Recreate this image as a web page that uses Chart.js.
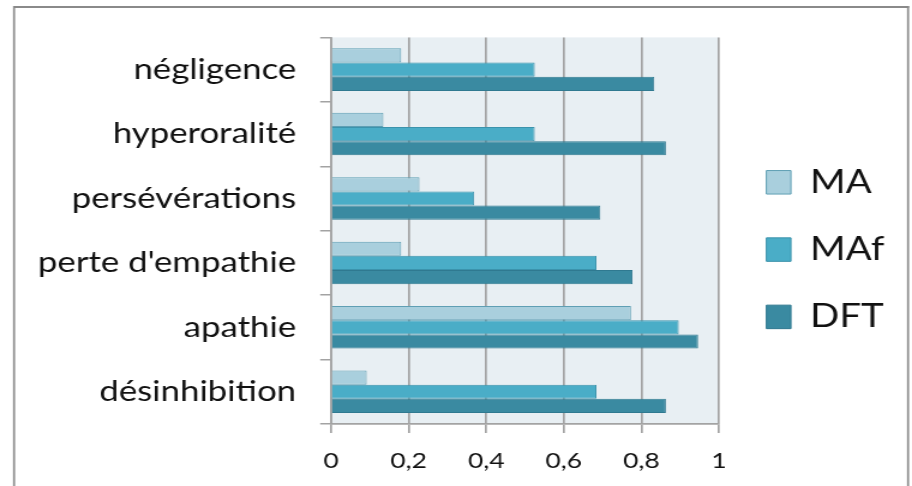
<!DOCTYPE html>
<html>
<head>
<meta charset="utf-8">
<script src="https://cdn.jsdelivr.net/npm/chart.js@4/dist/chart.umd.min.js"></script>
<style>
  html, body { margin: 0; padding: 0; background: #ffffff; overflow: hidden; }
  /* the chart is laid out narrow and widened horizontally */
  #wrap { position: absolute; left: 0; top: 0; width: 760px; height: 486px;
          transform: scaleX(1.2); transform-origin: 0 0; }
  canvas { display: block; }
</style>
</head>
<body>
<div id="wrap"><canvas id="c" width="760" height="486" style="width:760px;height:486px"></canvas></div>
<script>
// Symptom categories (top to bottom) and the share of each group showing them
const categories = ['négligence', 'hyperoralité', 'persévérations', "perte d'empathie", 'apathie', 'désinhibition'];
const seriesNames = ['MA', 'MAf', 'DFT'];
const valuesMA  = [0.181, 0.135, 0.228, 0.181, 0.773, 0.092];
const valuesMAf = [0.525, 0.525, 0.369, 0.684, 0.896, 0.684];
const valuesDFT = [0.833, 0.863, 0.694, 0.777, 0.946, 0.863];
const xTickValues = [0, 0.2, 0.4, 0.6, 0.8, 1];

const fills   = ['#a9cfdd', '#4aadc7', '#3a8aa1'];
const borders = ['#5f9fb4', '#3b93ac', '#2f7990'];
const GRID = '#a3a3a3';
const FONT = 'Lato';
const PLOT_RIGHT = 599.2;   // right edge of the plot, canvas px
const PAD_RIGHT = 13;

// light plot background and the outer frame
const chartBackdrop = {
  id: 'chartBackdrop',
  beforeDraw(chart) {
    const { ctx, chartArea: a } = chart;
    ctx.save();
    ctx.fillStyle = '#e8eff3';
    ctx.fillRect(a.left, a.top, a.right - a.left, a.bottom - a.top);
    ctx.strokeStyle = '#8a8a8a';
    ctx.lineWidth = 2;
    ctx.beginPath();
    ctx.moveTo(11, 7); ctx.lineTo(757.5, 7);
    ctx.stroke();
    ctx.lineWidth = 1.7;
    ctx.beginPath();
    ctx.moveTo(11.7, 6); ctx.lineTo(11.7, 486);
    ctx.moveTo(756.7, 6); ctx.lineTo(756.7, 486);
    ctx.stroke();
    ctx.restore();
  }
};

const fmt = v => String(Math.round(v * 10) / 10).replace('.', ',');

const spacer = (axis, position, fitFn) => ({
  type: 'linear', axis, position, display: true,
  ticks: { display: false },
  grid: { display: false, drawTicks: false },
  border: { display: false },
  afterFit: fitFn
});

new Chart(document.getElementById('c'), {
  type: 'bar',
  data: {
    labels: categories,
    datasets: [valuesMA, valuesMAf, valuesDFT].map((vals, i) => ({
      label: seriesNames[i],
      data: vals,
      backgroundColor: fills[i],
      borderColor: borders[i],
      borderWidth: 1,
      xAxisID: 'x',
      yAxisID: 'y'
    }))
  },
  options: {
    responsive: false,
    animation: false,
    devicePixelRatio: 1,
    indexAxis: 'y',
    layout: { padding: { left: 0, top: 13.2, right: PAD_RIGHT, bottom: 0 } },
    datasets: { bar: { categoryPercentage: 0.66, barPercentage: 1 } },
    scales: {
      x: {
        type: 'linear', position: 'bottom', min: 0, max: 1,
        afterBuildTicks(s) { s.ticks = xTickValues.map(v => ({ value: v })); },
        ticks: { padding: 14.6, color: '#111', font: { family: FONT, size: 22 }, callback: fmt },
        grid: { color: GRID, lineWidth: 1.7, tickLength: 9, drawTicks: true },
        border: { color: GRID, width: 1.7 },
        afterFit(s) { s.height = 62; }
      },
      y: {
        type: 'category', position: 'left',
        ticks: { padding: 20, color: '#111', font: { family: FONT, size: 29 } },
        grid: { drawOnChartArea: false, offset: true, tickLength: 9, color: GRID, lineWidth: 1.5 },
        border: { color: GRID, width: 1.7 },
        afterFit(s) { s.width = 275.8; }
      },
      // empty band above the plot
      top: spacer('x', 'top', s => { s.height = 22.8; }),
      // empty band between the plot and the legend
      gap: spacer('y', 'right', s => {
        s.width = Math.max(0, 760 - PAD_RIGHT - s.chart.legend.width - PLOT_RIGHT);
      })
    },
    plugins: {
      legend: {
        position: 'right',
        maxWidth: 300,
        labels: {
          color: '#111',
          font: { family: FONT, size: 32 },
          boxWidth: 20.5,
          boxHeight: 23.5,
          padding: 35.3
        }
      },
      tooltip: { enabled: false }
    }
  },
  plugins: [chartBackdrop]
});
</script>
</body>
</html>
